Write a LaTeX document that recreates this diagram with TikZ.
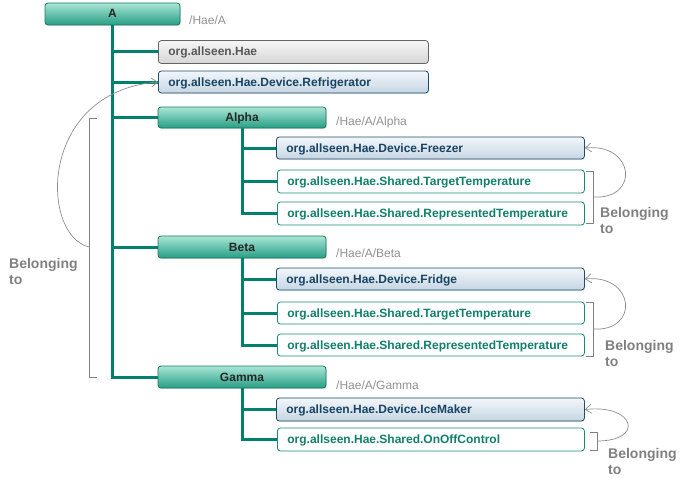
\documentclass[tikz,border=0pt]{standalone}
\usepackage{fontspec}
\setmainfont{Liberation Sans}
\usetikzlibrary{shadows,arrows.meta}
\definecolor{trunkc}{RGB}{0,128,110}
\definecolor{tealtop}{RGB}{170,230,214}
\definecolor{tealbot}{RGB}{38,158,132}
\definecolor{tealbd}{RGB}{28,118,98}
\definecolor{bluetop}{RGB}{242,246,250}
\definecolor{bluebot}{RGB}{198,214,228}
\definecolor{bluebd}{RGB}{28,78,104}
\definecolor{bluetx}{RGB}{24,68,98}
\definecolor{graytop}{RGB}{246,246,246}
\definecolor{graybot}{RGB}{214,214,214}
\definecolor{graybd}{RGB}{100,100,100}
\definecolor{graytx}{RGB}{88,88,88}
\definecolor{whitebd}{RGB}{20,140,120}
\definecolor{whitetx}{RGB}{16,128,108}
\definecolor{lbl}{RGB}{128,128,128}
\definecolor{pathc}{RGB}{145,145,145}
\begin{document}
\begin{tikzpicture}[x=1pt,y=-1pt,
  every node/.style={inner ysep=0pt},
  boxfont/.style={font=\bfseries\fontsize{12}{14}\selectfont},
  basebox/.style={boxfont, rounded corners=3pt, line width=0.8pt, minimum height=22pt, text height=10pt, text depth=2pt},
  tealbox/.style={basebox, draw=tealbd, top color=tealtop, bottom color=tealbot, text=black!85, minimum width=#1, align=center,
     drop shadow={shadow xshift=1pt,shadow yshift=-1.2pt,opacity=0.25}},
  wide/.style={text width=#1-20pt, inner xsep=10pt, align=left},
  graybox/.style={basebox, wide=#1, draw=graybd, top color=graytop, bottom color=graybot, text=graytx},
  bluebox/.style={basebox, wide=#1, draw=bluebd, top color=bluetop, bottom color=bluebot, text=bluetx,
     drop shadow={shadow xshift=0.8pt,shadow yshift=-1pt,opacity=0.2}},
  whitebox/.style={basebox, wide=#1, draw=whitebd, fill=white, text=whitetx},
  trunk/.style={draw=trunkc, line width=3pt},
  brk/.style={draw=lbl, line width=0.7pt},
  belong/.style={draw=lbl!90, line width=0.7pt, -{Straight Barb[length=6pt,width=9pt]}},
  pathlbl/.style={font=\fontsize{12}{14}\selectfont, text=pathc, anchor=west, inner sep=0pt},
  bellbl/.style={font=\bfseries\fontsize{14}{16}\selectfont, text=lbl, align=left, anchor=north west, inner sep=0pt}
]
\useasboundingbox (0,0) rectangle (695,487);

% nodes
\node[tealbox=135pt] (A) at (112.5,14) {A};
\node[pathlbl] (pA) at (189,20) {/Hae/A};
\node[graybox=270pt, anchor=west, minimum height=23pt] (hae) at (158,52) {org.allseen.Hae};
\node[bluebox=270pt, anchor=west] (refr) at (158,82) {org.allseen.Hae.Device.Refrigerator};

\node[tealbox=168pt, minimum height=21pt] (alpha) at (242,117.5) {Alpha};
\node[pathlbl] (pAlpha) at (336,122) {/Hae/A/Alpha};
\node[bluebox=308pt, anchor=west] (frz) at (276,148) {org.allseen.Hae.Device.Freezer};
\node[whitebox=307pt, anchor=west, minimum height=23pt] (tt1) at (277,181.5) {org.allseen.Hae.Shared.TargetTemperature};
\node[whitebox=307pt, anchor=west, minimum height=23pt] (rt1) at (277,213.5) {org.allseen.Hae.Shared.RepresentedTemperature};

\node[tealbox=168pt] (beta) at (242,247) {Beta};
\node[pathlbl] (pBeta) at (336,253) {/Hae/A/Beta};
\node[bluebox=308pt, anchor=west] (frg) at (276,279) {org.allseen.Hae.Device.Fridge};
\node[whitebox=307pt, anchor=west] (tt2) at (277,313) {org.allseen.Hae.Shared.TargetTemperature};
\node[whitebox=307pt, anchor=west] (rt2) at (277,345) {org.allseen.Hae.Shared.RepresentedTemperature};

\node[tealbox=168pt] (gamma) at (242,377) {Gamma};
\node[pathlbl] (pGamma) at (336,385) {/Hae/A/Gamma};
\node[bluebox=308pt, anchor=west, minimum height=23pt] (ice) at (276,409.5) {org.allseen.Hae.Device.IceMaker};
\node[whitebox=307pt, anchor=west, minimum height=23pt] (onoff) at (277,439.5) {org.allseen.Hae.Shared.OnOffControl};

% trunk lines
\draw[trunk] (A.south) |- (gamma.west);
\draw[trunk] (A.south |- hae.west) -- (hae.west);
\draw[trunk] (A.south |- refr.west) -- (refr.west);
\draw[trunk] (A.south |- alpha.west) -- (alpha.west);
\draw[trunk] (A.south |- beta.west) -- (beta.west);

\draw[trunk] (alpha.south) |- (rt1.west);
\draw[trunk] (alpha.south |- frz.west) -- (frz.west);
\draw[trunk] (alpha.south |- tt1.west) -- (tt1.west);

\draw[trunk] (beta.south) |- (rt2.west);
\draw[trunk] (beta.south |- frg.west) -- (frg.west);
\draw[trunk] (beta.south |- tt2.west) -- (tt2.west);

\draw[trunk] (gamma.south) |- (onoff.west);
\draw[trunk] (gamma.south |- ice.west) -- (ice.west);

% left bracket and curve
\coordinate (lb) at (89,247);
\draw[brk] (97,118) -- (89,118) -- (89,377) -- (97,377);
\draw[belong] (lb) .. controls (40,235) and (38,92) .. (refr.west);
\node[bellbl] (bl0) at (9,258) {Belonging\\to};

% Alpha bracket
\coordinate (b1) at (593,197);
\draw[brk] (586,171) -- (593,171) -- (593,223) -- (586,223);
\draw[belong] (b1) .. controls (640,200) and (635,143) .. (frz.east);
\node[bellbl] (bl1) at (600,207) {Belonging\\to};

% Beta bracket
\coordinate (b2) at (593,329);
\draw[brk] (586,302) -- (593,302) -- (593,356) -- (586,356);
\draw[belong] (b2) .. controls (640,332) and (635,274) .. (frg.east);
\node[bellbl] (bl2) at (605,340) {Belonging\\to};

% Gamma bracket
\coordinate (b3) at (597,441);
\draw[brk] (590,432) -- (597,432) -- (597,450) -- (590,450);
\draw[belong] (b3) .. controls (645,441) and (635,404) .. (ice.east);
\node[bellbl] (bl3) at (608,448) {Belonging\\to};
\end{tikzpicture}
\end{document}
